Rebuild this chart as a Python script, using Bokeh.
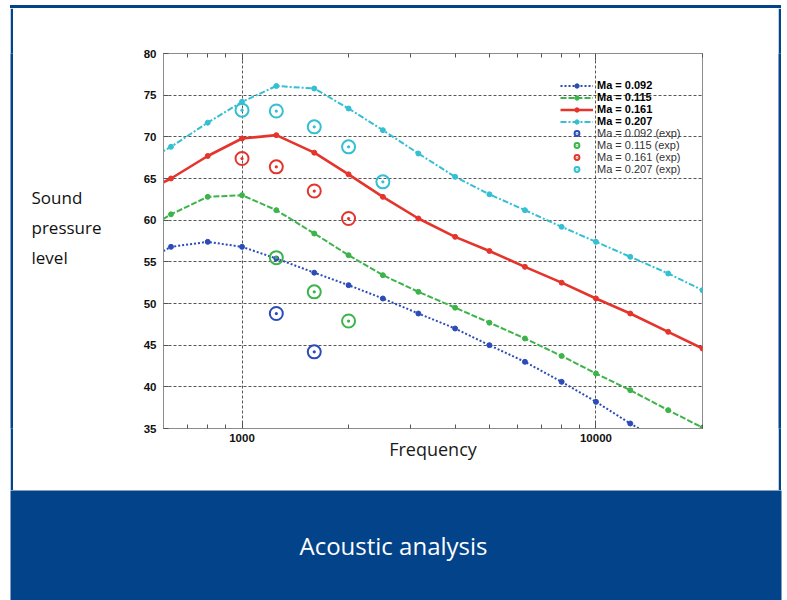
from bokeh.plotting import figure
from bokeh.models import (Range1d, FixedTicker, LogAxis, Legend, LegendItem,
                          Label, Spacer)
from bokeh.layouts import column, row
from bokeh.embed import file_html
from bokeh.resources import INLINE

# ---------------- data ----------------
freq = [500, 630, 800, 1000, 1250, 1600, 2000, 2500, 3150, 4000, 5000,
        6300, 8000, 10000, 12500, 16000, 20000]
spl_092 = [54.4, 56.8, 57.4, 56.8, 55.4, 53.7, 52.2, 50.6, 48.8, 47.0, 45.0,
           43.0, 40.6, 38.2, 35.6, 33.0]
spl_115 = [58.1, 60.7, 62.8, 63.0, 61.2, 58.4, 55.8, 53.4, 51.4, 49.5, 47.7,
           45.8, 43.7, 41.6, 39.6, 37.2, 35.1]
spl_161 = [62.9, 65.0, 67.7, 69.8, 70.2, 68.1, 65.5, 62.8, 60.2, 58.0, 56.3,
           54.4, 52.5, 50.6, 48.8, 46.6, 44.6]
spl_207 = [66.4, 68.8, 71.7, 74.2, 76.1, 75.8, 73.4, 70.8, 68.0, 65.2, 63.1,
           61.2, 59.2, 57.4, 55.6, 53.6, 51.6]

exp_freq_092 = [1250, 1600]
exp_092 = [48.8, 44.2]
exp_freq_115 = [1250, 1600, 2000]
exp_115 = [55.5, 51.4, 47.9]
exp_freq_161 = [1000, 1250, 1600, 2000]
exp_161 = [67.4, 66.4, 63.5, 60.2]
exp_freq_207 = [1000, 1250, 1600, 2000, 2500]
exp_207 = [73.2, 73.1, 71.2, 68.8, 64.6]

line_labels = ["Ma = 0.092", "Ma = 0.115", "Ma = 0.161", "Ma = 0.207"]
exp_labels = ["Ma = 0.092 (exp)", "Ma = 0.115 (exp)", "Ma = 0.161 (exp)", "Ma = 0.207 (exp)"]

x_ticks = [1000, 10000]
x_tick_labels = ["1000", "10000"]
x_minor_ticks = [600, 700, 800, 900, 2000, 3000, 4000, 5000, 6000, 7000,
                 8000, 9000, 20000]
y_ticks = [35, 40, 45, 50, 55, 60, 65, 70, 75, 80]

title_text = "Acoustic analysis"
x_label = "Frequency"
y_label = "Sound\npressure\nlevel"

# ---------------- styles ----------------
BLUE_FRAME = "#03438a"
C_BLUE = "#2b4cb8"
C_GREEN = "#3cb44a"
C_RED = "#e5342b"
C_CYAN = "#34bfd3"
TICK_FONT = "Liberation Sans"
TEXT_FONT = "Open Sans"


def blue_piece(w, h):
    """A fully blue rectangle (used for the card's outline)."""
    f = figure(width=w, height=h, title=None, output_backend="svg",
               toolbar_location=None, x_axis_location=None,
               y_axis_location=None, min_border=0,
               x_range=Range1d(0, 1), y_range=Range1d(0, 1),
               border_fill_color=BLUE_FRAME, background_fill_color=BLUE_FRAME,
               outline_line_color=None)
    f.grid.visible = False
    return f


# ---------------- main chart ----------------
p = figure(width=765, height=482, x_axis_type="log", title=None,
           x_range=Range1d(600, 20000), y_range=Range1d(35, 80),
           output_backend="svg", toolbar_location=None,
           min_border_left=150, min_border_right=76,
           min_border_top=45, min_border_bottom=62,
           border_fill_color="white", background_fill_color="white")

p.outline_line_color = "#8c8c8c"
p.outline_line_width = 1

xt = FixedTicker(ticks=x_ticks, minor_ticks=x_minor_ticks)
xa = p.below[0]
xa.ticker = xt
xa.major_label_overrides = dict(zip(x_ticks, x_tick_labels))
xa.major_label_text_font = TICK_FONT
xa.major_label_text_font_style = "bold"
xa.major_label_text_font_size = "11.5px"
xa.major_label_text_color = "#111111"
xa.major_label_standoff = 5
xa.major_tick_in = 7
xa.major_tick_out = 0
xa.minor_tick_in = 4
xa.minor_tick_out = 0
xa.major_tick_line_color = "#555555"
xa.minor_tick_line_color = "#555555"
xa.axis_line_color = "#8c8c8c"
xa.axis_label = x_label
xa.axis_label_text_font = TEXT_FONT
xa.axis_label_text_font_style = "normal"
xa.axis_label_text_font_size = "18px"
xa.axis_label_text_color = "#1a1a1a"
xa.axis_label_standoff = -8

top_axis = LogAxis(ticker=FixedTicker(ticks=x_ticks, minor_ticks=x_minor_ticks),
                   major_label_text_color=None,
                   major_tick_in=7, major_tick_out=0,
                   minor_tick_in=4, minor_tick_out=0,
                   major_tick_line_color="#555555",
                   minor_tick_line_color="#555555",
                   axis_line_color="#8c8c8c")
p.add_layout(top_axis, "above")

ya = p.left[0]
ya.ticker = FixedTicker(ticks=y_ticks, minor_ticks=[])
ya.major_label_text_font = TICK_FONT
ya.major_label_text_font_style = "bold"
ya.major_label_text_font_size = "11.5px"
ya.major_label_text_color = "#111111"
ya.major_label_standoff = 7
ya.major_tick_in = 5
ya.major_tick_out = 0
ya.major_tick_line_color = "#555555"
ya.axis_line_color = "#8c8c8c"

for g in (p.xgrid[0], p.ygrid[0]):
    g.grid_line_color = "#3a3a3a"
    g.grid_line_dash = "3 2"
    g.grid_line_width = 1
    g.grid_line_alpha = 0.85

series = [
    (spl_092, C_BLUE, "2 2", 2.0),
    (spl_115, C_GREEN, "6 2", 2.0),
    (spl_161, C_RED, "solid", 2.6),
    (spl_207, C_CYAN, "6 2 2 2", 2.0),
]
line_items = []
for (vals, col, dash, lw), lab in zip(series, line_labels):
    xs = freq[:len(vals)]
    lr = p.line(xs, vals, line_color=col, line_width=lw, line_dash=dash)
    sr = p.scatter(xs, vals, marker="circle", size=5, fill_color=col,
                   line_color=col)
    line_items.append(LegendItem(label=lab, renderers=[lr, sr]))

exps = [
    (exp_freq_092, exp_092, C_BLUE),
    (exp_freq_115, exp_115, C_GREEN),
    (exp_freq_161, exp_161, C_RED),
    (exp_freq_207, exp_207, C_CYAN),
]
exp_items = []
for (xs, vals, col), lab in zip(exps, exp_labels):
    er = p.scatter(xs, vals, marker="circle_dot", size=13, fill_color=None,
                   line_color=col, line_width=2)
    exp_items.append(LegendItem(label=lab, renderers=[er]))

common = dict(background_fill_alpha=0, border_line_alpha=0, padding=0,
              margin=0, glyph_width=33, label_standoff=4,
              label_text_font=TICK_FONT,
              label_text_font_size="11px", spacing=0)
leg1 = Legend(items=line_items, location=(397, 300.8), glyph_height=11,
              label_height=11, label_text_font_style="bold",
              label_text_color="#000000", **common)
leg2 = Legend(items=exp_items, location=(397, 253.3), glyph_height=12,
              label_height=12, label_text_font_style="normal",
              label_text_color="#333333", **common)
p.add_layout(leg1)
p.add_layout(leg2)

p.add_layout(Label(x=18, y=219, x_units="canvas", y_units="canvas",
                   text=y_label, text_font=TEXT_FONT,
                   text_font_size="17px", text_color="#111111",
                   text_line_height=1.31,
                   text_align="left", text_baseline="middle"), "left")

# ---------------- caption band ----------------
band = figure(width=787, height=110, title=None, output_backend="svg",
              toolbar_location=None, x_axis_location=None,
              y_axis_location=None, min_border_left=10, min_border_right=6,
              min_border_top=0, min_border_bottom=0,
              x_range=Range1d(0, 1), y_range=Range1d(0, 1),
              border_fill_color="white", background_fill_color=BLUE_FRAME,
              outline_line_color=None)
band.grid.visible = False
band.add_layout(Label(x=383, y=55, x_units="screen", y_units="screen",
                      text=title_text, text_font=TEXT_FONT,
                      text_font_size="24px", text_color="white",
                      text_align="center", text_baseline="middle"))

# ---------------- card assembly ----------------
top_line = row(Spacer(width=10, height=3),
               Spacer(width=771, height=3,
                      styles={"background-color": BLUE_FRAME}),
               spacing=0)
middle = row(Spacer(width=10, height=482), blue_piece(3, 482), p,
             blue_piece(3, 482), Spacer(width=6, height=482), spacing=0)
layout = column(Spacer(width=787, height=5), top_line, middle, band,
                spacing=0)

open("out.html", "w").write(file_html(layout, INLINE))
